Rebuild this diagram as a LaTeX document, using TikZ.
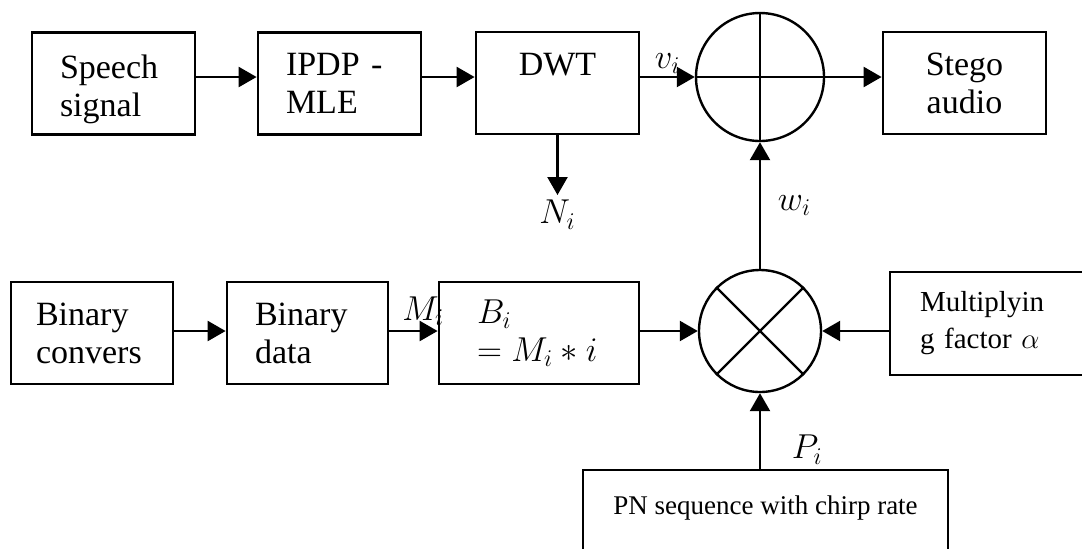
\documentclass[tikz,border=0pt]{standalone}
\usepackage{fontspec}
\setmainfont{Liberation Serif}
\usepackage{tikz}
\usetikzlibrary{arrows.meta}

\begin{document}
\begin{tikzpicture}[x=0.5pt,y=-0.5pt,font=\fontsize{17}{19}\selectfont,
  blk/.style={draw,line width=1.4pt,minimum height=51pt},
  sum/.style={draw,circle,line width=1.2pt,inner sep=0pt},
  arr/.style={-{Triangle[length=9pt,width=10pt]},line width=1.2pt}]
\useasboundingbox (0,0) rectangle (1082,548);
\clip (0,0) rectangle (1082,548);
\node[blk,minimum width=81.5pt,text width=53.5pt,text depth=17pt,align=left] (speech) at (113.5,83.5) {Speech\\signal};
\node[blk,minimum width=81.5pt,text width=53.5pt,align=left] (ipdp) at (339.5,83.5) {IPDP -\\MLE};
\node[blk,minimum width=81.5pt,align=center] (dwt) at (557.5,83) {DWT\\\mbox{}};
\node[sum,minimum size=64pt] (add) at (760,77) {};
\node[blk,minimum width=81.5pt,align=center] (stego) at (964.5,83) {Stego\\audio};
\node[blk,minimum width=81pt,text width=56pt,align=left] (conv) at (92,333) {Binary\\convers};
\node[blk,minimum width=80.5pt,text width=52.5pt,align=left] (bdata) at (307.5,333) {Binary\\data};
\node[blk,minimum width=100pt,text width=62pt,align=left] (bi) at (539,333) {$B_i$\\$= M_i * i$};
\node[sum,minimum size=61pt] (mul) at (760,331) {};
\node[blk,minimum width=100pt,minimum height=51.5pt,text width=70pt,align=left,font=\fontsize{14.5}{18.5}\selectfont] (alpha) at (990,323.5) {Multiplyin\\g factor $\alpha$};
\node[blk,minimum width=182.5pt,minimum height=54pt,align=center,font=\fontsize{13.5}{19}\selectfont] (pn) at (765.5,524) {PN sequence with chirp rate\\\mbox{}};
\coordinate (ni) at (557.5,195);

\draw[line width=1.2pt] (add.north) -- (add.south) (add.west) -- (add.east);
\draw[line width=1.2pt] (mul.north west) -- (mul.south east) (mul.north east) -- (mul.south west);

\draw[arr] (speech.east |- add) -- (ipdp.west |- add);
\draw[arr] (ipdp.east |- add) -- (dwt.west |- add);
\draw[arr] (dwt.east |- add) -- node[above,inner sep=1pt]{$v_i$} (add.west);
\draw[arr] (add.east) -- (stego.west |- add);
\draw[arr] (dwt) -- (ni) node[below,inner sep=2pt]{$N_i$};
\draw[arr] (mul) -- node[right=5pt]{$w_i$} (add);
\draw[arr] (conv.east |- mul) -- (bdata.west |- mul);
\draw[arr] (bdata.east |- mul) -- node[pos=0.7,above,inner sep=2pt]{$M_i$} (bi.west |- mul);
\draw[arr] (bi.east |- mul) -- (mul);
\draw[arr] (alpha.west |- mul) -- (mul);
\draw[arr] (pn.north -| mul) -- node[pos=0.25,right=12pt]{$P_i$} (mul);
\end{tikzpicture}
\end{document}
